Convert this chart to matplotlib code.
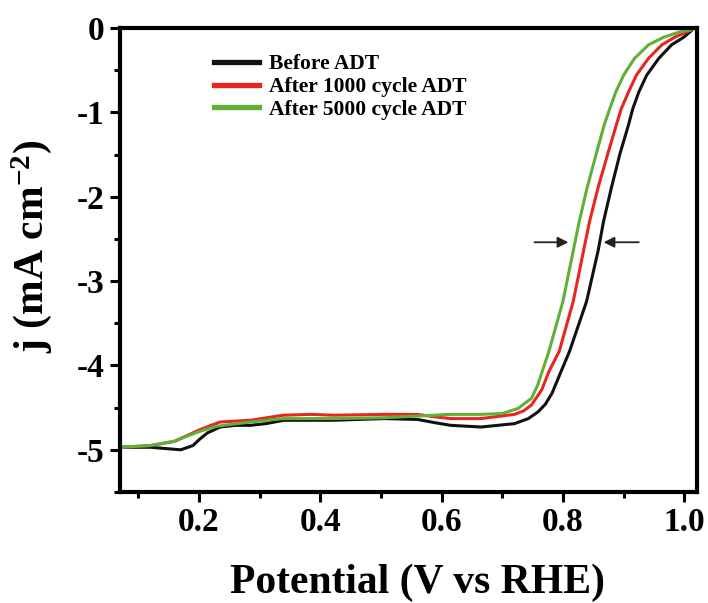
import matplotlib
matplotlib.use("Agg")
import matplotlib.pyplot as plt
from matplotlib.ticker import MultipleLocator

plt.rcParams['font.family'] = ['Liberation Serif', 'DejaVu Serif']
plt.rcParams['font.weight'] = 'bold'
plt.rcParams['axes.unicode_minus'] = False
plt.rcParams['mathtext.fontset'] = 'custom'
plt.rcParams['mathtext.rm'] = 'Liberation Serif:bold'
plt.rcParams['mathtext.bf'] = 'Liberation Serif:bold'
plt.rcParams['mathtext.it'] = 'Liberation Serif:bold:italic'

# ---- data ----
before_x = [0.07, 0.12, 0.17, 0.19, 0.202, 0.214, 0.235, 0.26, 0.285, 0.31, 0.34, 0.42, 0.505,
            0.56, 0.59, 0.615, 0.665, 0.72, 0.743, 0.759, 0.771, 0.782, 0.797, 0.811, 0.839,
            0.858, 0.867, 0.880, 0.894, 0.908, 0.915, 0.925, 0.938, 0.958, 0.979, 0.999, 1.012]
before_y = [-4.97, -4.97, -5.0, -4.95, -4.87, -4.80, -4.73, -4.71, -4.71, -4.69, -4.65, -4.65, -4.63,
            -4.64, -4.68, -4.71, -4.73, -4.69, -4.63, -4.55, -4.46, -4.33, -4.07, -3.83, -3.24,
            -2.64, -2.29, -1.89, -1.49, -1.15, -0.96, -0.76, -0.56, -0.36, -0.20, -0.11, -0.03]

c1000_x = [0.07, 0.12, 0.16, 0.202, 0.235, 0.285, 0.339, 0.384, 0.422, 0.505, 0.56, 0.59,
           0.615, 0.665, 0.72, 0.735, 0.748, 0.765, 0.777, 0.794, 0.817, 0.834, 0.844, 0.858,
           0.874, 0.888, 0.896, 0.908, 0.921, 0.941, 0.963, 0.984, 1.0, 1.012]
c1000_y = [-4.97, -4.95, -4.90, -4.76, -4.67, -4.65, -4.59, -4.58, -4.59, -4.58, -4.58, -4.61,
           -4.63, -4.63, -4.58, -4.54, -4.47, -4.29, -4.07, -3.83, -3.24, -2.64, -2.29, -1.89,
           -1.49, -1.15, -0.96, -0.76, -0.56, -0.36, -0.20, -0.11, -0.06, -0.02]

c5000_x = [0.07, 0.12, 0.158, 0.202, 0.23, 0.285, 0.339, 0.42, 0.505, 0.56, 0.615, 0.665,
           0.70, 0.726, 0.748, 0.758, 0.777, 0.800, 0.817, 0.827, 0.840, 0.855, 0.868, 0.877,
           0.887, 0.900, 0.918, 0.941, 0.966, 0.991, 1.012]
c5000_y = [-4.97, -4.95, -4.90, -4.78, -4.72, -4.67, -4.63, -4.63, -4.62, -4.60, -4.58, -4.58,
           -4.57, -4.51, -4.39, -4.24, -3.83, -3.24, -2.64, -2.29, -1.89, -1.49, -1.15, -0.96,
           -0.76, -0.56, -0.36, -0.20, -0.11, -0.05, -0.02]

labels = ["Before ADT", "After 1000 cycle ADT", "After 5000 cycle ADT"]
colors = ["#111111", "#e8251f", "#5fb036"]

arrow_y = -2.54
arrow_left = (0.753, 0.809)
arrow_right = (0.925, 0.867)

xticks = [0.2, 0.4, 0.6, 0.8, 1.0]
yticks = [0, -1, -2, -3, -4, -5]

# ---- figure ----
fig = plt.figure(figsize=(7.08, 6.03), dpi=100)
ax = fig.add_axes([0.1695, 0.1841, 0.815, 0.7695])

for xs, ys, lab, col in zip([before_x, c1000_x, c5000_x],
                            [before_y, c1000_y, c5000_y], labels, colors):
    ax.plot(xs, ys, color=col, lw=2.2, label=lab, solid_joinstyle='round')

for (x0, x1) in [arrow_left, arrow_right]:
    ax.annotate("", xy=(x1, arrow_y), xytext=(x0, arrow_y),
                arrowprops=dict(arrowstyle="-|>", color="#222222", lw=1.3,
                                mutation_scale=16, shrinkA=0, shrinkB=0))

ax.set_xlim(0.07, 1.021)
ax.set_ylim(-5.5, 0)
ax.set_xticks(xticks)
ax.set_xticklabels([f"{t:.1f}" for t in xticks])
ax.set_yticks(yticks)
ax.set_yticklabels([f"{t:d}" for t in yticks])
ax.xaxis.set_minor_locator(MultipleLocator(0.1))
ax.yaxis.set_minor_locator(MultipleLocator(0.5))

for s in ax.spines.values():
    s.set_linewidth(3)
ax.tick_params(which='major', direction='out', length=7, width=2.2,
               labelsize=24, pad=4, top=False, right=False)
ax.tick_params(which='minor', direction='out', length=4.5, width=2.2,
               top=False, right=False)

ax.set_xlabel("Potential (V vs RHE)", fontsize=30, fontweight='bold')
ax.xaxis.set_label_coords(0.515, -0.155)
ax.set_ylabel("j (mA cm$^{\\mathregular{-2}}$)", fontsize=30, fontweight='bold')
ax.yaxis.set_label_coords(-0.115, 0.53)

leg = ax.legend(loc='upper left', bbox_to_anchor=(0.13, 0.985), frameon=False,
                prop={'family': 'Liberation Serif', 'weight': 'bold', 'size': 15.5},
                handlelength=2.05, handletextpad=0.5, labelspacing=0.12)
for line in leg.get_lines():
    line.set_linewidth(3.8)

fig.savefig("out.png", dpi=100)
